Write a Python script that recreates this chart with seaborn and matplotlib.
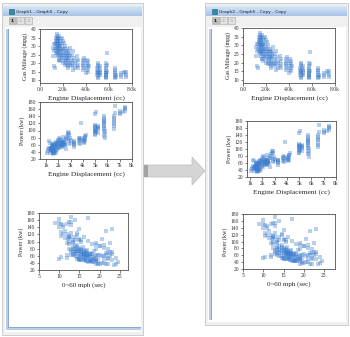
import numpy as np
import matplotlib
matplotlib.use("Agg")
import matplotlib.pyplot as plt
from matplotlib.patches import Rectangle, Polygon
from matplotlib.colors import LinearSegmentedColormap
import seaborn as sns
import pandas as pd

# ---- car data: engine displacement (cc), gas mileage (mpg), power (kw), 0~60 mph time (sec)
disp_cc = [
    1300, 1360, 1390, 1400, 1400, 1450, 1450, 1470, 1490, 1490,
    1500, 1500, 1520, 1550, 1560, 1570, 1590, 1590, 1600, 1600,
    1600, 1600, 1610, 1620, 1630, 1640, 1650, 1660, 1680, 1700,
    1700, 1720, 1750, 1760, 1780, 1790, 1800, 1800, 1330, 1420,
    1480, 1540, 1580, 1620, 1700,
    1100, 1150, 1200, 1250, 1180, 1280,
    1850, 1900, 1950, 1950, 1980, 2000, 2000, 2000, 2020, 2050,
    2100, 2100, 2150, 2150, 2200, 2200, 2250, 2280, 2300, 2300,
    2310, 2320, 2330, 2350, 2380, 2400, 2450, 2460, 2470, 2480,
    2500, 2500, 2550, 2600, 2600, 1900, 2000, 2200, 2400,
    2650, 2700, 2750, 2800, 2800, 2850, 2850, 2900, 2950, 3000, 3000, 2900,
    3250, 3250, 3250, 3300, 3300, 3300, 3700, 3700, 3700, 3750, 3750, 3800, 3800,
    4100, 4100, 4100, 4100, 4150, 4200, 4200, 4200, 4250, 3850, 4000,
    4950, 4950, 4950, 5000, 5000, 5000, 5000, 5050, 5050, 5100,
    5200, 5200, 5200, 5200, 5250, 5000, 5000, 5000, 5100,
    5700, 5700, 5700, 5700, 5700, 5750, 5750, 5750, 5750, 5750, 5800, 5800, 5800, 5700, 5750,
    6550, 6550, 6550, 6550, 6550, 6550, 6600, 6600, 6500,
    7000, 7000, 7050, 7300, 7400, 7450, 7450, 7450,
]
mileage_mpg = [
    31, 33, 35, 29, 32, 34, 37, 30, 33, 28,
    36, 26, 31, 35, 27, 32, 34, 29, 31, 25,
    33, 27, 36, 30, 22, 28, 32, 26, 29, 33,
    24, 30, 27, 31, 25, 28, 34, 23, 28, 26,
    24, 30, 35, 22, 21,
    29, 24, 18, 31, 27, 17,
    26, 28, 24, 31, 27, 22, 29, 25, 20, 32,
    26, 23, 28, 21, 25, 30, 24, 27, 22, 20,
    26, 23, 28, 19, 24, 21, 26, 22, 18, 25,
    20, 27, 23, 19, 29, 35, 33, 19, 17,
    24, 20, 22, 18, 25, 21, 27, 19, 23, 17, 20, 16,
    21, 18, 24, 19, 22, 17, 20, 18, 22, 16, 19, 21, 17,
    18, 20, 16, 22, 19, 17, 15, 21, 18, 23, 14,
    15, 17, 13, 19, 14, 16, 18, 12, 15, 17,
    14, 16, 13, 18, 15, 20, 11, 14, 13,
    14, 13, 15, 12, 16, 17, 13, 11, 18, 14, 19, 26, 15, 20, 12,
    13, 12, 14, 11, 15, 16, 12, 13, 17,
    14, 12, 13, 15, 14, 13, 12, 15,
]
power_kw = [
    49, 46, 49, 52, 50, 48, 44, 55, 51, 56,
    48, 61, 45, 39, 58, 50, 52, 55, 48, 63,
    40, 34, 49, 57, 60, 52, 37, 44, 42, 56,
    66, 53, 60, 43, 58, 48, 36, 68, 38, 42,
    46, 36, 45, 38, 41,
    36, 42, 70, 52, 47, 66,
    66, 63, 70, 55, 62, 74, 57, 65, 80, 50,
    60, 72, 64, 76, 58, 62, 66, 68, 63, 70,
    56, 67, 60, 82, 65, 59, 64, 74, 68, 62,
    58, 66, 60, 75, 48, 44, 52, 53, 55,
    80, 85, 90, 95, 75, 88, 70, 93, 78, 65, 72, 62,
    60, 66, 55, 70, 63, 68, 73, 78, 65, 80, 70, 75, 62,
    72, 68, 78, 65, 82, 76, 70, 84, 88, 120, 74,
    98, 105, 110, 95, 102, 112, 90, 108, 100, 97,
    104, 110, 112, 93, 106, 88, 115, 145, 152,
    108, 120, 123, 130, 112, 104, 126, 134, 95, 116, 78, 90, 100, 85, 140,
    130, 112, 125, 140, 118, 105, 150, 170, 135,
    148, 155, 145, 152, 160, 165, 162, 155,
]
accel_sec = [
    15.0, 16.5, 19.0, 14.5, 21.0, 15.5, 17.5, 12.0, 18.0, 10.5,
    16.0, 13.5, 19.0, 20.5, 14.0, 22.0, 14.8, 15.0, 16.4, 13.0,
    21.0, 23.5, 15.2, 14.3, 15.5, 16.0, 19.5, 18.0, 24.5, 17.0,
    13.5, 15.8, 22.5, 17.0, 16.5, 19.0, 21.5, 14.5, 20.0, 18.5,
    17.8, 22.0, 16.8, 24.0, 19.5,
    19.0, 18.0, 13.0, 10.0, 17.5, 14.0,
    15.5, 20.0, 14.0, 16.5, 21.5, 13.5, 17.0, 15.8, 12.5, 18.5,
    16.0, 14.5, 23.0, 13.0, 17.5, 16.2, 15.0, 22.0, 16.0, 15.5,
    18.0, 16.5, 15.2, 21.0, 17.2, 19.0, 16.0, 14.2, 17.5, 12.0,
    20.5, 16.8, 21.0, 15.5, 23.0, 17.5, 19.5, 22.0, 24.0,
    14.5, 13.5, 19.0, 12.0, 15.0, 20.0, 16.0, 12.5, 22.0, 18.0, 16.5, 19.5,
    17.0, 16.0, 18.5, 15.5, 16.8, 21.5, 15.0, 14.0, 17.5, 13.5, 22.5, 15.8, 19.0,
    16.0, 16.5, 15.5, 18.0, 15.0, 16.8, 23.0, 14.5, 14.0, 11.0, 18.5,
    12.5, 15.0, 11.5, 13.5, 17.0, 14.0, 14.5, 12.2, 15.5, 19.0,
    13.5, 12.5, 16.0, 18.0, 15.0, 20.0, 10.5, 13.0, 10.0,
    20.5, 12.0, 14.5, 21.5, 13.0, 14.0, 10.5, 15.0, 22.5, 12.5, 19.0, 21.0, 13.5, 15.8, 11.0,
    11.5, 12.5, 13.0, 10.0, 14.5, 15.5, 12.0, 13.0, 23.0,
    10.5, 12.5, 11.0, 9.0, 14.0, 17.0, 10.0, 13.0,
]

cars = pd.DataFrame({"disp": disp_cc, "mpg": mileage_mpg,
                     "kw": power_kw, "accel": accel_sec})

# tick labels
disp_ticks_k = [0, 2000, 4000, 6000, 8000]
disp_ticklabels_k = ["0.0", "2.0k", "4.0k", "6.0k", "8.0k"]
disp_ticks = [1000, 2000, 3000, 4000, 5000, 6000, 7000, 8000]
disp_ticklabels = ["1k", "2k", "3k", "4k", "5k", "6k", "7k", "8k"]
mpg_ticks = [10, 15, 20, 25, 30, 35, 40]
kw_ticks = [20, 40, 60, 80, 100, 120, 140, 160, 180]
accel_ticks = [5, 10, 15, 20, 25]

window_titles = ["Graph1 - Graph5 - Copy", "Graph2 - Graph5 - Copy - Copy"]

sns.set_theme(style="ticks")
plt.rcParams["font.family"] = ["Liberation Serif", "DejaVu Serif"]

W, H = 350, 337
fig = plt.figure(figsize=(W / 100, H / 100), dpi=100)
fig.patch.set_facecolor("white")

bg = fig.add_axes([0, 0, 1, 1])
bg.set_xlim(0, W)
bg.set_ylim(H, 0)
bg.axis("off")

title_cmap = LinearSegmentedColormap.from_list("tb", ["#d6e5f5", "#a9c5e8"])


def rect(x0, y0, x1, y1, fc, ec="none", lw=0.0, z=1):
    bg.add_patch(Rectangle((x0, y0), x1 - x0, y1 - y0, facecolor=fc,
                           edgecolor=ec, linewidth=lw, zorder=z))


def window(x0, y0, x1, y1, title, bottom_strip):
    rect(x0, y0, x1, y1, "#f0f0f0", "#c6c6c6", 0.6, 1)
    bg.imshow(np.linspace(0, 1, 12).reshape(-1, 1), cmap=title_cmap,
              extent=(x0 + 1, x1 - 1, y0 + 13, y0 + 3), aspect="auto", zorder=2)
    # window icon and title
    rect(x0 + 7, y0 + 6, x0 + 12, y0 + 11, "#2f8f9a", "#1d5f80", 0.4, 3)
    bg.text(x0 + 14, y0 + 8.6, title, fontsize=3.2, family="DejaVu Sans",
            color="#222222", va="center", ha="left", zorder=3)
    # page tabs
    for i, lab in enumerate(["1", "2", "3"]):
        tx = x0 + 7 + i * 8
        rect(tx, y0 + 14, tx + 7, y0 + 21,
             "#bdbdbd" if i == 0 else "#e2e2e2", "#a8a8a8", 0.4, 3)
        bg.text(tx + 3.5, y0 + 17.6, lab, fontsize=3.2, family="DejaVu Sans",
                color="#111111" if i == 0 else "#b8b8b8",
                ha="center", va="center", zorder=4, weight="bold")
    # client area
    rect(x0 + 3, y0 + 24, x1 - 2, y1 - 3, "white", z=2)
    rect(x0 + 4, y0 + 26, x0 + 6, y1 - 5, "#b9cde6", z=3)
    rect(x0 + 6, y0 + 26, x0 + 7.3, y1 - 5, "#8aa9cf", z=3)
    if bottom_strip:
        rect(x0 + 4, y1 - 7, x1 - 2, y1 - 5, "#b9cde6", z=3)
        rect(x0 + 6, y1 - 8.3, x1 - 2, y1 - 7, "#8aa9cf", z=3)


window(2, 3, 143, 335, window_titles[0], True)
window(205, 3, 348, 325, window_titles[1], False)

# arrow between the two windows
bg.add_patch(Polygon([(144, 165), (192, 165), (192, 157), (205, 171),
                      (192, 185), (192, 177), (144, 177)], closed=True,
                     facecolor="#d5d5d5", edgecolor="#bcbcbc", lw=0.5, zorder=4))
rect(144, 165, 148, 177, "#a2a2a2", z=5)
bg.set_xlim(0, W)
bg.set_ylim(H, 0)

point_color = "#3f7fcf"


def panel(x0, y0, x1, y1):
    ax = fig.add_axes([x0 / W, 1 - y1 / H, (x1 - x0) / W, (y1 - y0) / H])
    ax.set_facecolor("white")
    for s in ax.spines.values():
        s.set_color("#505050")
        s.set_linewidth(0.6)
        s.set_visible(True)
    ax.tick_params(direction="out", length=1.8, width=0.45, pad=1.0,
                   labelsize=4.0, colors="#333333")
    return ax


def scatter(ax, x, y):
    sns.scatterplot(data=cars, x=x, y=y, ax=ax, marker="s", s=6,
                    color=point_color, alpha=0.36, linewidth=0, legend=False)


layouts = [
    # (left window, right window) pixel boxes for each graph
    ((40, 29, 132, 83), (243, 28, 335, 83)),
    ((40, 102, 132, 159), (247, 121, 336, 177)),
    ((39, 213, 128, 270), (243, 214, 335, 269)),
]
disp_xlims = [(500, 8000), (750, 8000)]
accel_xlims = [(5, 27), (5, 27.7)]

for w in range(2):
    box1, box2, box3 = (layouts[0][w], layouts[1][w], layouts[2][w])

    ax = panel(*box1)
    scatter(ax, "disp", "mpg")
    ax.set_xlim(0, 8000)
    ax.set_ylim(8.3, 40)
    ax.set_xticks(disp_ticks_k, disp_ticklabels_k)
    ax.set_yticks(mpg_ticks)
    ax.set_xlabel("Engine Displacement (cc)", fontsize=5.3, labelpad=2.5)
    ax.set_ylabel("Gas Mileage (mpg)", fontsize=4.3, labelpad=2)

    ax = panel(*box2)
    scatter(ax, "disp", "kw")
    ax.set_xlim(*disp_xlims[w])
    ax.set_ylim(20, 180)
    ax.set_xticks(disp_ticks, disp_ticklabels)
    ax.set_yticks(kw_ticks)
    ax.set_xlabel("Engine Displacement (cc)", fontsize=5.3, labelpad=2.5)
    ax.set_ylabel("Power (kw)", fontsize=4.3, labelpad=2)

    ax = panel(*box3)
    scatter(ax, "accel", "kw")
    ax.set_xlim(*accel_xlims[w])
    ax.set_ylim(20, 180)
    ax.set_xticks(accel_ticks)
    ax.set_yticks(kw_ticks)
    ax.set_xlabel("0~60 mph (sec)", fontsize=5.0, labelpad=2.5)
    ax.set_ylabel("Power (kw)", fontsize=4.3, labelpad=2)

fig.savefig("out.png", dpi=100, facecolor=fig.get_facecolor())
